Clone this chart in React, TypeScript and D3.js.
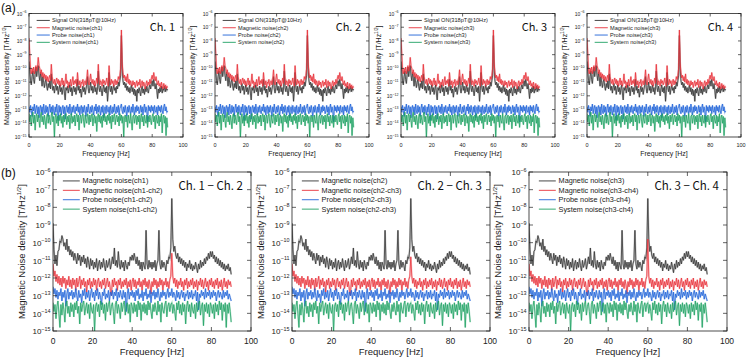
import React, { useEffect } from "react";
import * as d3 from "d3";

// spectra are sampled every 0.5 Hz from 0 to 90 Hz
const FREQ_STEP = 0.5;

// values are log10 of the noise density [T/Hz^1/2]
// (a) single channels
const signalOn = [
  -9.5, -10.2, -10.9, -11.2, -10.6, -10.2, -10.8, -11.1, -10.4, -9.9, -10.6, -10.1, -9.8, -10.5, -10.9, -10.3, -10.7, -11.3, -10.6, -11.0,
  -11.4, -11.0, -10.8, -11.3, -11.6, -11.1, -11.4, -10.9, -11.5, -10.4, -11.2, -11.6, -11.3, -11.8, -11.4, -11.1, -11.6, -11.3, -11.9, -11.5,
  -11.2, -11.7, -11.4, -11.9, -11.5, -11.2, -11.8, -12.3, -11.4, -11.6, -11.3, -11.8, -11.5, -11.2, -11.7, -11.4, -12.0, -11.5, -11.3, -11.7,
  -11.4, -11.9, -11.5, -10.8, -11.6, -11.3, -11.8, -11.5, -12.1, -11.6, -11.3, -11.7, -11.4, -11.9, -11.5, -11.2, -10.6, -11.5, -11.8, -11.4,
  -11.0, -11.6, -11.3, -11.8, -11.5, -11.2, -11.7, -11.4, -11.9, -11.5, -10.2, -11.4, -11.7, -11.3, -11.6, -12.0, -11.5, -11.2, -11.7, -11.4,
  -11.8, -11.3, -12.4, -11.6, -10.3, -11.4, -11.7, -11.3, -11.9, -11.5, -11.2, -11.6, -11.4, -11.8, -11.3, -11.5, -11.0, -11.3, -10.9, -10.5,
  -7.6, -10.0, -10.9, -11.2, -11.0, -11.4, -11.1, -11.6, -11.3, -11.7, -11.4, -11.8, -11.5, -11.2, -11.7, -11.4, -11.9, -11.5, -12.0, -11.6,
  -12.4, -11.5, -11.8, -11.4, -11.7, -12.0, -11.5, -11.3, -11.8, -11.5, -11.9, -11.4, -11.7, -11.3, -11.6, -11.8, -11.4, -11.2, -11.5, -11.1,
  -10.9, -11.3, -10.8, -11.2, -11.5, -11.1, -11.6, -12.2, -11.5, -11.8, -11.4, -11.7, -11.3, -11.8, -11.5, -11.6, -11.3, -11.7, -11.4, -11.6,
  -11.5,
];
const magneticNoise = [
  -7.8, -8.9, -10.1, -10.4, -10.0, -10.3, -9.9, -10.4, -10.1, -9.8, -10.2, -9.9, -9.2, -9.8, -10.0, -10.4, -10.1, -10.6, -10.3, -10.7,
  -10.4, -10.8, -10.5, -10.9, -10.6, -11.0, -10.7, -10.5, -10.9, -9.7, -10.6, -10.9, -11.1, -10.8, -11.2, -10.9, -10.7, -11.1, -10.8, -11.2,
  -10.9, -11.3, -11.0, -10.7, -11.2, -10.9, -11.3, -11.0, -10.4, -11.1, -10.9, -11.4, -11.0, -11.2, -10.8, -11.3, -11.0, -10.6, -11.2, -10.9,
  -11.1, -10.8, -11.3, -10.3, -11.0, -11.2, -10.9, -11.4, -11.0, -11.1, -10.8, -11.3, -11.0, -10.9, -11.2, -10.8, -10.1, -11.0, -11.2, -10.8,
  -10.4, -10.9, -11.1, -10.8, -11.2, -10.9, -11.3, -11.0, -10.7, -11.1, -9.7, -10.8, -11.2, -10.9, -11.0, -11.3, -10.8, -11.1, -10.9, -11.2,
  -11.0, -10.7, -11.1, -11.3, -9.8, -10.9, -11.2, -10.8, -11.1, -10.9, -11.3, -11.0, -10.8, -11.2, -10.9, -11.1, -10.6, -10.8, -10.5, -10.0,
  -7.2, -9.6, -10.3, -10.7, -10.5, -10.9, -10.6, -11.0, -10.4, -11.1, -10.8, -11.2, -10.9, -11.1, -11.3, -10.9, -11.2, -11.0, -11.4, -11.1,
  -10.9, -11.3, -11.0, -11.2, -10.8, -11.4, -11.1, -10.9, -11.3, -11.0, -11.2, -11.5, -11.1, -10.9, -11.3, -11.0, -11.2, -10.8, -11.1, -10.7,
  -10.5, -10.8, -10.3, -10.7, -10.9, -10.6, -11.0, -11.2, -10.9, -11.3, -11.1, -11.4, -11.0, -11.3, -11.5, -11.1, -11.4, -11.2, -11.5, -11.3,
  -11.4,
];
const probeNoise = [
  -12.8, -13.2, -12.7, -13.1, -13.5, -12.8, -13.1, -12.6, -13.3, -12.9, -12.7, -13.3, -12.8, -13.6, -12.9, -12.7, -13.2, -12.8, -13.4, -12.6,
  -13.1, -13.3, -12.7, -13.2, -12.8, -13.5, -12.9, -12.6, -13.2, -12.8, -13.3, -12.7, -13.1, -13.4, -12.8, -13.2, -12.6, -13.1, -13.8, -12.7,
  -13.2, -12.8, -13.4, -12.9, -12.7, -13.3, -12.8, -13.7, -12.9, -12.7, -13.2, -12.8, -13.3, -12.6, -13.1, -13.4, -12.8, -13.2, -12.7, -13.1,
  -13.3, -12.8, -13.1, -12.6, -13.2, -12.8, -13.4, -12.9, -12.7, -13.3, -12.8, -13.2, -12.7, -13.1, -13.5, -12.8, -13.2, -12.6, -13.1, -13.3,
  -12.8, -13.2, -12.7, -13.1, -13.4, -12.8, -13.1, -12.6, -13.3, -12.8, -13.2, -12.7, -13.1, -13.4, -12.8, -13.2, -12.7, -13.6, -12.9, -12.8,
  -13.3, -12.7, -13.1, -13.2, -12.8, -13.4, -12.7, -13.1, -13.3, -12.8, -13.2, -12.6, -13.1, -13.3, -12.8, -13.2, -12.7, -13.4, -12.9, -12.8,
  -12.6, -13.1, -13.3, -12.8, -13.2, -12.7, -13.1, -13.5, -12.8, -13.2, -12.7, -13.1, -13.3, -12.8, -13.2, -12.6, -13.1, -13.4, -12.8, -13.2,
  -12.7, -13.1, -12.8, -13.3, -13.1, -12.7, -13.2, -12.8, -13.4, -12.9, -12.6, -13.2, -12.8, -13.1, -13.9, -12.7, -13.1, -12.8, -13.2, -12.7,
  -13.1, -12.8, -13.3, -12.7, -13.1, -13.2, -12.8, -13.4, -12.7, -13.1, -12.8, -13.2, -12.7, -13.1, -13.3, -12.8, -12.6, -13.1, -12.8, -13.2,
  -13.1,
];
const systemNoise = [
  -13.3, -13.9, -13.4, -14.2, -13.5, -13.2, -14.0, -13.4, -14.5, -13.5, -13.3, -13.9, -13.4, -13.8, -14.3, -13.4, -13.2, -13.9, -13.5, -14.1,
  -13.4, -13.8, -14.4, -13.5, -13.3, -14.0, -13.4, -13.8, -14.1, -13.4, -13.2, -13.9, -13.5, -15.0, -13.6, -13.3, -14.0, -13.5, -14.2, -13.4,
  -13.8, -13.3, -14.0, -13.5, -14.3, -13.4, -13.9, -13.5, -13.3, -14.1, -13.5, -13.9, -13.4, -14.4, -13.6, -13.3, -14.0, -13.5, -13.9, -13.4,
  -14.2, -13.5, -13.3, -13.9, -13.4, -14.5, -13.6, -13.4, -14.0, -13.5, -13.3, -13.9, -14.3, -13.4, -13.8, -14.0, -13.3, -13.5, -14.1, -13.4,
  -13.9, -13.5, -13.3, -14.2, -13.6, -13.4, -14.0, -13.5, -14.6, -13.6, -13.3, -13.9, -13.4, -14.0, -13.5, -14.3, -13.4, -13.8, -13.3, -13.9,
  -13.5, -14.1, -13.4, -13.8, -13.3, -14.0, -13.5, -14.4, -13.4, -13.9, -13.5, -13.3, -14.1, -13.6, -13.4, -13.9, -13.5, -14.2, -13.3, -13.8,
  -13.4, -14.0, -13.5, -15.0, -13.6, -13.4, -13.9, -13.5, -14.3, -13.4, -13.8, -14.0, -13.3, -13.9, -14.5, -13.5, -13.4, -14.0, -13.6, -13.4,
  -14.1, -13.5, -13.9, -13.4, -14.4, -13.6, -13.3, -13.9, -13.5, -14.2, -13.4, -13.8, -14.0, -13.4, -14.3, -13.5, -13.9, -13.4, -13.8, -14.1,
  -13.5, -13.3, -13.9, -13.5, -14.4, -13.4, -13.8, -14.0, -13.4, -14.2, -13.5, -13.9, -13.3, -14.7, -13.6, -13.4, -14.0, -13.5, -14.9, -13.6,
  -14.3,
];

// (b) channel differences
const channelNoise = [
  -8.9, -10.4, -11.2, -10.7, -11.3, -10.5, -10.4, -9.9, -10.0, -9.6, -9.8, -10.2, -10.0, -10.4, -9.8, -10.5, -10.2, -10.7, -10.4, -10.8,
  -10.5, -11.0, -10.6, -10.9, -11.2, -10.6, -11.0, -10.7, -11.3, -10.8, -11.1, -10.7, -11.2, -10.9, -11.4, -10.8, -11.1, -11.5, -10.9, -11.3,
  -11.0, -11.5, -11.1, -11.4, -10.9, -11.6, -11.2, -11.0, -11.5, -11.1, -11.4, -10.9, -11.3, -11.6, -11.0, -11.4, -11.2, -10.9, -11.5, -11.2,
  -10.8, -11.2, -10.3, -11.3, -11.0, -11.4, -10.5, -11.2, -11.5, -11.0, -11.4, -11.1, -11.6, -11.0, -11.3, -11.5, -11.1, -11.3, -10.8, -11.0,
  -10.7, -11.0, -10.6, -10.9, -11.2, -10.8, -11.3, -11.0, -11.5, -11.1, -11.6, -11.1, -11.3, -11.5, -9.3, -11.2, -11.5, -11.0, -11.4, -11.1,
  -11.5, -11.1, -11.4, -11.0, -11.6, -11.2, -11.0, -9.3, -11.2, -11.5, -11.0, -11.4, -11.1, -11.3, -11.6, -11.0, -11.2, -10.8, -10.9, -10.3,
  -7.5, -9.8, -10.5, -10.2, -10.7, -10.9, -10.6, -11.1, -10.8, -11.2, -10.9, -11.3, -11.0, -11.4, -11.1, -11.6, -11.2, -11.4, -11.0, -11.5,
  -11.2, -11.6, -11.3, -11.5, -11.1, -11.4, -11.7, -11.2, -11.5, -11.0, -11.4, -11.1, -11.3, -10.9, -11.2, -10.8, -11.0, -10.6, -10.9, -10.5,
  -10.8, -10.5, -10.9, -10.7, -11.1, -10.8, -11.2, -10.9, -11.3, -11.0, -11.4, -11.1, -11.5, -11.2, -11.6, -11.3, -11.5, -11.2, -11.6, -11.4,
  -11.8,
];
const diffNoise = [
  -11.2, -11.9, -11.6, -12.2, -11.8, -12.3, -11.9, -12.4, -12.0, -12.5, -11.9, -12.3, -12.0, -12.6, -12.1, -12.4, -11.9, -12.5, -12.1, -12.6,
  -12.0, -12.4, -12.1, -12.7, -12.0, -12.5, -12.2, -11.9, -12.6, -12.1, -12.4, -12.0, -12.5, -12.2, -12.8, -12.1, -12.4, -12.0, -12.6, -12.2,
  -12.5, -12.0, -12.4, -12.1, -12.7, -12.2, -12.0, -12.5, -12.2, -12.6, -12.1, -12.4, -12.0, -12.6, -12.3, -12.0, -12.5, -12.2, -12.7, -13.0,
  -12.1, -12.5, -12.0, -12.4, -12.2, -12.7, -12.1, -12.4, -12.0, -12.6, -12.2, -12.5, -12.1, -12.4, -12.0, -12.6, -12.2, -12.5, -12.1, -12.7,
  -12.2, -12.0, -12.5, -12.1, -12.6, -12.2, -12.4, -12.0, -12.5, -12.2, -12.7, -12.1, -12.4, -12.0, -12.5, -12.2, -12.6, -12.1, -12.4, -12.9,
  -12.2, -12.5, -12.0, -12.4, -12.1, -12.6, -12.2, -12.5, -12.0, -12.4, -12.1, -12.7, -12.2, -12.4, -12.0, -12.5, -12.2, -12.6, -12.1, -11.9,
  -10.6, -11.9, -12.3, -12.0, -12.5, -12.1, -12.6, -12.2, -12.4, -12.0, -12.5, -12.2, -12.7, -12.1, -12.4, -12.0, -12.6, -12.2, -12.5, -12.1,
  -12.4, -12.0, -12.6, -12.2, -12.5, -12.1, -12.7, -12.2, -12.4, -12.0, -12.5, -12.1, -12.6, -12.3, -12.0, -12.5, -12.2, -12.7, -12.1, -12.4,
  -12.0, -12.5, -12.2, -12.6, -12.1, -12.4, -12.0, -12.6, -12.2, -12.5, -12.1, -12.7, -12.3, -12.0, -12.5, -12.2, -12.6, -12.1, -12.4, -12.2,
  -12.5,
];
const probeDiffNoise = [
  -12.5, -12.9, -12.6, -13.1, -12.7, -13.2, -12.8, -13.0, -12.6, -13.3, -12.8, -13.1, -12.7, -13.6, -12.9, -12.6, -13.2, -12.8, -13.0, -12.7,
  -13.2, -12.8, -13.1, -12.6, -13.0, -13.3, -12.7, -13.1, -12.9, -13.4, -12.7, -13.0, -12.6, -13.2, -12.8, -13.1, -12.7, -13.3, -12.9, -12.6,
  -13.1, -12.8, -13.3, -12.7, -13.0, -12.6, -13.2, -12.8, -13.1, -13.5, -12.8, -13.0, -12.6, -13.2, -12.9, -13.1, -12.7, -13.3, -12.8, -13.0,
  -12.7, -13.2, -12.8, -13.0, -12.6, -13.3, -12.8, -13.1, -12.7, -13.0, -13.2, -12.7, -13.1, -12.8, -13.9, -12.9, -12.6, -13.2, -12.8, -13.0,
  -12.7, -13.1, -12.8, -13.3, -12.7, -13.0, -12.6, -13.2, -12.9, -13.1, -12.7, -13.3, -12.8, -13.0, -12.6, -13.2, -12.9, -13.1, -12.7, -13.4,
  -12.8, -13.0, -12.7, -13.2, -12.8, -13.1, -12.6, -13.0, -13.3, -12.8, -13.1, -12.7, -13.0, -12.8, -13.2, -12.9, -12.6, -13.1, -12.8, -13.0,
  -12.6, -13.1, -12.8, -13.0, -13.3, -12.7, -13.1, -12.8, -13.2, -12.9, -12.7, -13.1, -12.8, -13.3, -12.9, -13.0, -12.7, -13.2, -12.8, -13.1,
  -12.7, -13.2, -12.9, -13.0, -12.7, -13.3, -12.8, -13.8, -12.9, -13.1, -12.7, -13.0, -12.8, -13.2, -12.6, -13.1, -12.8, -13.0, -12.7, -13.2,
  -12.8, -13.1, -12.7, -13.0, -12.8, -13.3, -12.9, -12.7, -13.1, -12.8, -13.0, -13.2, -12.7, -13.1, -12.8, -13.0, -12.7, -13.2, -12.9, -13.1,
  -13.3,
];
const systemDiffNoise = [
  -13.4, -13.9, -13.5, -14.3, -13.6, -13.3, -14.0, -14.8, -13.5, -14.1, -13.4, -13.8, -14.5, -13.5, -13.3, -14.0, -13.6, -14.2, -13.4, -13.9,
  -13.5, -14.2, -13.4, -13.8, -13.3, -14.0, -13.6, -14.6, -13.4, -13.9, -13.5, -13.3, -14.1, -13.7, -13.4, -14.0, -13.5, -14.3, -13.4, -13.8,
  -14.0, -13.5, -15.0, -13.6, -13.4, -13.9, -13.5, -14.2, -13.3, -13.8, -13.4, -14.0, -13.5, -14.4, -13.4, -13.9, -13.5, -13.3, -14.1, -13.6,
  -13.4, -13.9, -14.6, -13.5, -13.3, -14.0, -13.5, -13.8, -14.3, -13.4, -13.9, -13.5, -13.3, -14.1, -13.6, -13.4, -14.0, -13.5, -14.5, -13.4,
  -13.6, -14.0, -13.4, -13.9, -13.5, -14.2, -13.3, -13.8, -13.4, -14.4, -13.5, -13.9, -13.4, -14.0, -13.5, -14.1, -13.3, -13.8, -13.4, -13.9,
  -14.3, -13.5, -13.9, -13.4, -13.8, -14.1, -13.3, -13.9, -13.5, -14.5, -13.4, -13.8, -14.0, -13.5, -13.3, -14.2, -13.6, -13.4, -13.9, -13.5,
  -13.4, -14.0, -13.5, -13.9, -14.4, -13.4, -13.8, -13.3, -14.0, -13.5, -14.1, -13.4, -13.9, -13.5, -14.6, -13.6, -13.3, -13.9, -13.5, -14.2,
  -13.4, -13.8, -14.0, -13.5, -14.3, -13.4, -13.9, -13.5, -13.3, -14.1, -13.6, -13.4, -14.7, -13.5, -13.9, -13.4, -14.0, -13.5, -14.2, -13.4,
  -13.6, -14.0, -13.5, -14.3, -13.4, -13.9, -13.5, -14.1, -13.3, -13.8, -13.4, -14.4, -13.5, -13.9, -13.4, -14.8, -13.5, -14.0, -13.4, -13.9,
  -14.5,
];
// height of the 60 Hz line in the difference signal, per pair
const diffPeak60 = [-10.6, -10.8, -9.8];

const chTitles = ["Ch. 1", "Ch. 2", "Ch. 3", "Ch. 4"];
const chNames = ["ch1", "ch2", "ch3", "ch3"];
const pairTitles = ["Ch. 1 \u2212 Ch. 2", "Ch. 2 \u2212 Ch. 3", "Ch. 3 \u2212 Ch. 4"];
const pairNames = ["ch1-ch2", "ch2-ch3", "ch3-ch4"];
const pairFirst = ["ch1", "ch2", "ch3"];

const xTicks = [0, 20, 40, 60, 80, 100];
const yExps = [-6, -7, -8, -9, -10, -11, -12, -13, -14, -15];

const COLORS = { black: "#333333", red: "#e8313a", blue: "#1f63d8", green: "#1fa163" };
const FONT = "'Liberation Sans', Arial, sans-serif";
const GOTHIC = "'Noto Sans CJK JP', 'DejaVu Sans', sans-serif";

type Series = { name: string; color: string; values: number[] };

type Style = {
  tick: number;
  sup: number;
  axis: number;
  legend: number;
  legendGap: number;
  title: number;
  tickLen: number;
  yLabelOff: number;
};

const topStyle: Style = { tick: 5, sup: 3.6, axis: 7, legend: 5.6, legendGap: 7.3, title: 11, tickLen: 3, yLabelOff: 20 };
const botStyle: Style = { tick: 8, sup: 5.4, axis: 9.5, legend: 7.3, legendGap: 9.4, title: 11.5, tickLen: 4, yLabelOff: 28 };

let clipId = 0;

function Panel({ left, top, width, height, series, title, st }: {
  left: number; top: number; width: number; height: number; series: Series[]; title: string; st: Style;
}) {
  const x = d3.scaleLinear().domain([0, 100]).range([left, left + width]);
  const y = d3.scaleLog().domain([1e-15, 1e-6]).range([top + height, top]);
  const line = d3
    .line<number>()
    .x((_, i) => x(i * FREQ_STEP))
    .y((v) => y(Math.pow(10, v)));
  const id = `clip${clipId++}`;
  const bottom = top + height;
  const right = left + width;

  return (
    <g>
      <defs>
        <clipPath id={id}>
          <rect x={left} y={top} width={width} height={height} />
        </clipPath>
      </defs>
      <g clipPath={`url(#${id})`} fill="none">
        {series.map((s) => (
          <g key={s.name}>
            <path d={line(s.values) ?? ""} stroke={s.color} strokeWidth={1.8} strokeOpacity={0.3} />
            <path d={line(s.values) ?? ""} stroke={s.color} strokeWidth={0.75} strokeLinejoin="round" />
          </g>
        ))}
      </g>
      <rect x={left} y={top} width={width} height={height} fill="none" stroke="#222" strokeWidth={0.8} />
      {xTicks.map((t) => (
        <g key={"x" + t}>
          <line x1={x(t)} x2={x(t)} y1={bottom} y2={bottom - st.tickLen} stroke="#222" strokeWidth={0.7} />
          <line x1={x(t)} x2={x(t)} y1={top} y2={top + st.tickLen} stroke="#222" strokeWidth={0.7} />
          <text x={x(t)} y={bottom + st.tick + 4.5} fontSize={st.tick + 0.5} textAnchor="middle" fontFamily={FONT} fill="#222">
            {t}
          </text>
        </g>
      ))}
      {yExps.map((e) => (
        <g key={"y" + e}>
          <line x1={left} x2={left + st.tickLen} y1={y(Math.pow(10, e))} y2={y(Math.pow(10, e))} stroke="#222" strokeWidth={0.7} />
          <line x1={right} x2={right - st.tickLen} y1={y(Math.pow(10, e))} y2={y(Math.pow(10, e))} stroke="#222" strokeWidth={0.7} />
          <text x={left - 2.5} y={y(Math.pow(10, e)) + st.tick * 0.4} fontSize={st.tick} textAnchor="end" fontFamily={FONT} fill="#222">
            10
            <tspan fontSize={st.sup} dy={-st.tick * 0.45}>
              {"\u2212" + -e}
            </tspan>
          </text>
        </g>
      ))}
      <text x={(left + right) / 2} y={bottom + st.tick + 4.5 + st.axis + 2} fontSize={st.axis} textAnchor="middle" fontFamily={FONT} fill="#222">
        Frequency [Hz]
      </text>
      <text
        transform={`translate(${left - st.yLabelOff},${(top + bottom) / 2}) rotate(-90)`}
        fontSize={st.axis}
        textAnchor="middle"
        fontFamily={FONT}
        fill="#222"
      >
        Magnetic Noise density [T/Hz
        <tspan fontSize={st.axis * 0.65} dy={-st.axis * 0.4}>1/2</tspan>
        <tspan dy={st.axis * 0.4}>]</tspan>
      </text>
      {series.map((s, i) => {
        const ly = top + st.legendGap * (i + 1) - st.legendGap * 0.05;
        const lx = left + st.legendGap * 1.05;
        return (
          <g key={"l" + s.name}>
            <line x1={lx} x2={lx + st.legendGap * 1.8} y1={ly} y2={ly} stroke={s.color} strokeWidth={0.9} />
            <text x={lx + st.legendGap * 2.1} y={ly + st.legend * 0.35} fontSize={st.legend} fontFamily={FONT} fill="#222">
              {s.name}
            </text>
          </g>
        );
      })}
      <text x={right - 8} y={top + st.title * 1.55} fontSize={st.title} textAnchor="end" fontFamily={GOTHIC} fill="#111">
        {title}
      </text>
    </g>
  );
}

const topLefts = [29, 215, 401, 587];
const botLefts = [53, 292, 529];

export default function App() {
  useEffect(() => {
    document.body.style.margin = "0";
  }, []);

  return (
    <svg width={747} height={359} style={{ display: "block", background: "#fff" }}>
      <text x={1} y={12} fontSize={12} fontFamily={FONT} fill="#111">(a)</text>
      <text x={1} y={177} fontSize={12} fontFamily={FONT} fill="#111">(b)</text>
      {topLefts.map((l, i) => (
        <Panel
          key={"a" + i}
          left={l}
          top={13.5}
          width={154}
          height={123.5}
          title={chTitles[i]}
          st={topStyle}
          series={[
            { name: "Signal ON(318pT@10Hz)", color: COLORS.black, values: signalOn },
            { name: `Magnetic noise(${chNames[i]})`, color: COLORS.red, values: magneticNoise },
            { name: `Probe noise(${chNames[i]})`, color: COLORS.blue, values: probeNoise },
            { name: `System noise(${chNames[i]})`, color: COLORS.green, values: systemNoise },
          ]}
        />
      ))}
      {botLefts.map((l, i) => (
        <Panel
          key={"b" + i}
          left={l}
          top={172}
          width={198}
          height={159}
          title={pairTitles[i]}
          st={botStyle}
          series={[
            { name: `Magnetic noise(${pairFirst[i]})`, color: COLORS.black, values: channelNoise },
            {
              name: `Magnetic noise(${pairNames[i]})`,
              color: COLORS.red,
              values: diffNoise.map((v, k) => (k * FREQ_STEP === 60 ? diffPeak60[i] : v)),
            },
            { name: `Probe noise${i === 2 ? " " : ""}(${pairNames[i]})`, color: COLORS.blue, values: probeDiffNoise },
            { name: `System noise(${pairNames[i]})`, color: COLORS.green, values: systemDiffNoise },
          ]}
        />
      ))}
    </svg>
  );
}
